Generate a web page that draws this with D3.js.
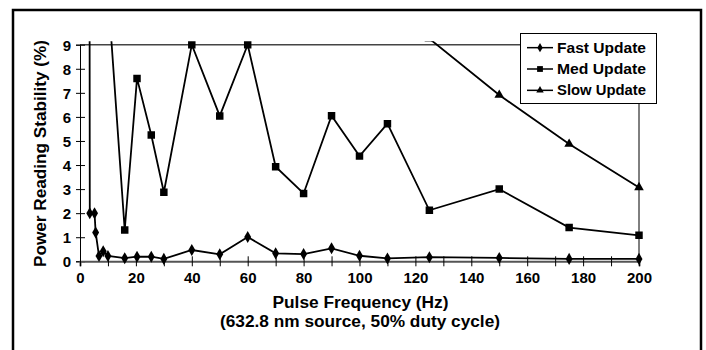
<!DOCTYPE html>
<html>
<head>
<meta charset="utf-8">
<script src="https://cdn.jsdelivr.net/npm/d3@7"></script>
<style>
  body { margin: 0; background: #fff; }
  text { font-family: "Liberation Sans", Arial, sans-serif; font-weight: bold; fill: #000; }
</style>
</head>
<body>
<svg id="chart" width="706" height="350"></svg>
<script>
// data (values above 9 run off the top and get clipped)
const fastFreq = [3.2, 3.5, 5.2, 5.6, 6.8, 8.3, 10, 16, 20.4, 25.5, 30, 40, 50, 60, 70, 80, 90, 100, 110, 125, 150, 175, 200]
const fastValues = [40, 2.0, 2.0, 1.2, 0.22, 0.42, 0.22, 0.13, 0.19, 0.19, 0.1, 0.47, 0.29, 1.01, 0.33, 0.3, 0.54, 0.23, 0.12, 0.17, 0.14, 0.1, 0.1]
const medFreq = [10, 16, 20.4, 25.5, 30, 40, 50, 60, 70, 80, 90, 100, 110, 125, 150, 175, 200]
const medValues = [11.2, 1.3, 7.6, 5.25, 2.87, 9.0, 6.04, 9.0, 3.93, 2.82, 6.05, 4.37, 5.72, 2.12, 3.0, 1.4, 1.08]
const slowFreq = [110, 125, 150, 175, 200]
const slowValues = [11, 9.25, 6.91, 4.87, 3.07]

const seriesNames = ["Fast Update", "Med Update", "Slow Update"]
const yTicks = [0, 1, 2, 3, 4, 5, 6, 7, 8, 9]
const xTicks = d3.range(0, 201, 10)
const xLabels = d3.range(0, 201, 20)

const svg = d3.select("#chart")

let x = d3.scaleLinear().domain([0, 200]).range([80, 639])
let y = d3.scaleLinear().domain([0, 9]).range([261.3, 44.7])

// outer frame
svg.append("rect")
	.attr("x", 13).attr("y", 10)
	.attr("width", 688).attr("height", 400)
	.attr("fill", "none").attr("stroke", "#000").attr("stroke-width", 2.5)

// plot border: top and right
svg.append("line")
	.attr("x1", x(0)).attr("x2", x(200))
	.attr("y1", y(9)).attr("y2", y(9))
	.attr("stroke", "#444").attr("stroke-width", 1.5)
svg.append("line")
	.attr("x1", x(200)).attr("x2", x(200))
	.attr("y1", y(9)).attr("y2", y(0))
	.attr("stroke", "#000").attr("stroke-width", 1)

// y axis, ticks crossing the line
let yAxis = svg.append("g")
	.attr("transform", `translate(${x(0)},0)`)
	.call(d3.axisLeft(y).tickValues(yTicks).tickSize(4).tickPadding(5))
yAxis.select(".domain").attr("stroke", "#000")
yAxis.selectAll(".tick line").attr("x1", -4).attr("x2", 5).attr("stroke", "#000")
yAxis.selectAll(".tick text")
	.style("font-size", "15px")
	.attr("dy", "0.36em")

// x axis
let xAxis = svg.append("g")
	.attr("transform", `translate(0,${y(0)})`)
	.call(d3.axisBottom(x).tickValues(xTicks).tickSize(5).tickPadding(6)
		.tickFormat(d => xLabels.includes(d) ? d : ""))
xAxis.select(".domain").attr("stroke", "#555").attr("stroke-width", 2)
xAxis.selectAll(".tick line").attr("y1", -5).attr("y2", 5).attr("stroke", "#000")
xAxis.selectAll(".tick text").style("font-size", "15px")

// clip the series to the plot area (a touch above the top line)
svg.append("clipPath").attr("id", "plot-clip")
	.append("rect")
	.attr("x", x(0)).attr("y", y(9) - 3.5)
	.attr("width", x(200) - x(0) + 8).attr("height", y(0) - y(9) + 12)

let plot = svg.append("g").attr("clip-path", "url(#plot-clip)")

const series = [
	{ name: seriesNames[0], freq: fastFreq, values: fastValues, symbol: d3.symbolDiamond, size: 42 },
	{ name: seriesNames[1], freq: medFreq, values: medValues, symbol: d3.symbolSquare, size: 56 },
	{ name: seriesNames[2], freq: slowFreq, values: slowValues, symbol: d3.symbolTriangle, size: 40 },
]

let line = d3.line().x(d => x(d[0])).y(d => y(d[1]))

series.forEach(s => {
	let pts = s.freq.map((f, i) => [f, s.values[i]])
	plot.append("path")
		.datum(pts)
		.attr("d", line)
		.attr("fill", "none")
		.attr("stroke", "#000")
		.attr("stroke-width", 1.8)
		.attr("stroke-linejoin", "miter")
	plot.selectAll(null)
		.data(pts)
		.join("path")
		.attr("transform", d => `translate(${x(d[0])},${y(d[1])})`)
		.attr("d", d3.symbol().type(s.symbol).size(s.size))
		.attr("fill", "#000")
})

// legend
let legend = svg.append("g").attr("class", "legend")
legend.append("rect")
	.attr("x", 520.5).attr("y", 33.5)
	.attr("width", 136).attr("height", 70)
	.attr("fill", "#fff").attr("stroke", "#000").attr("stroke-width", 1)

let ly = d3.scaleBand().domain(seriesNames).range([37, 101])
series.forEach(s => {
	let cy = ly(s.name) + ly.bandwidth() / 2
	legend.append("line")
		.attr("x1", 527).attr("x2", 553)
		.attr("y1", cy).attr("y2", cy)
		.attr("stroke", "#000").attr("stroke-width", 1.5)
	legend.append("path")
		.attr("transform", `translate(540,${cy})`)
		.attr("d", d3.symbol().type(s.symbol).size(s.size * 0.6))
		.attr("fill", "#000")
	legend.append("text")
		.attr("x", 557).attr("y", cy)
		.attr("dy", "0.36em")
		.attr("textLength", 89)
		.attr("lengthAdjust", "spacingAndGlyphs")
		.style("font-size", "14px")
		.text(s.name)
})

// axis titles
svg.append("text")
	.attr("transform", "translate(46,153.5) rotate(-90)")
	.attr("text-anchor", "middle")
	.attr("textLength", 227)
	.attr("lengthAdjust", "spacingAndGlyphs")
	.style("font-size", "16px")
	.text("Power Reading Stability (%)")

svg.append("text")
	.attr("x", 360.5).attr("y", 308)
	.attr("text-anchor", "middle")
	.attr("textLength", 176)
	.attr("lengthAdjust", "spacingAndGlyphs")
	.style("font-size", "16px")
	.text("Pulse Frequency (Hz)")

svg.append("text")
	.attr("x", 360).attr("y", 327)
	.attr("text-anchor", "middle")
	.attr("textLength", 280)
	.attr("lengthAdjust", "spacingAndGlyphs")
	.style("font-size", "16px")
	.text("(632.8 nm source, 50% duty cycle)")
</script>
</body>
</html>
